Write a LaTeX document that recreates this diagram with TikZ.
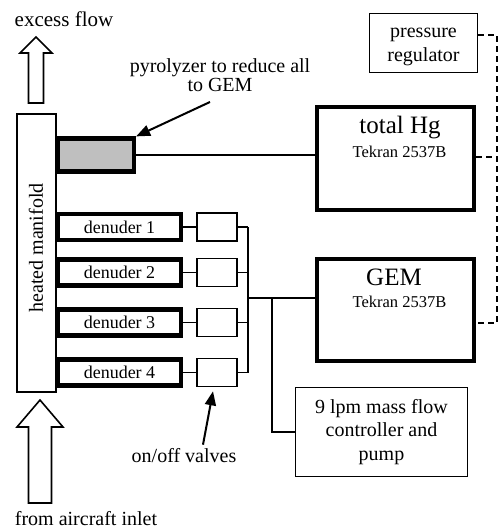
\documentclass[tikz,border=0pt]{standalone}
\usepackage{fontspec}
\setmainfont{Liberation Serif}
\usetikzlibrary{positioning,arrows.meta,calc}

\tikzset{
  thinbox/.style={draw, line width=1.6pt, inner sep=0pt},
  thickbox/.style={draw, line width=4.2pt, inner sep=0pt},
  pipe/.style={line width=1.6pt},
  dashline/.style={line width=1.6pt, dash pattern=on 6pt off 4pt},
  pointer/.style={line width=2pt, -{Triangle[length=14pt,width=11pt]}},
  bigarrow/.style={draw, line width=1.6pt, fill=white, line join=miter},
  txt/.style={font=\fontsize{20}{23}\selectfont, inner sep=0pt, align=center},
}

\begin{document}
\begin{tikzpicture}[x=1pt, y=-1pt]
  \useasboundingbox (0,0) rectangle (501,531);

  % manifold and flow arrows
  \node[thinbox, minimum width=39pt, minimum height=278pt] (manifold) at (36.5,253) {};
  \node[txt, rotate=90] (manifoldlbl) at (36,248) {heated manifold};
  \draw[bigarrow] (28.5,103) -- (28.5,53) -- (20,53) -- (36,37) -- (52,53) -- (43.5,53) -- (43.5,103) -- cycle;
  \node[txt, font=\fontsize{21}{23}\selectfont] (excess) at (64,19) {excess flow};
  \draw[bigarrow] (28.5,503) -- (28.5,427) -- (17,427) -- (40,400) -- (63,427) -- (51.5,427) -- (51.5,503) -- cycle;
  \node[txt] (inlet) at (86,519) {from aircraft inlet};

  % pyrolyzer branch
  \node[thickbox, fill=black!25, minimum width=76pt, minimum height=33pt] (pyro) at (96,155) {};
  \node[txt, font=\fontsize{20}{19.5}\selectfont] (pyrolbl) at (220,75) {pyrolyzer to reduce all\\to GEM};
  \draw[pointer] ([xshift=-10pt,yshift=-10pt]pyrolbl.south) -- (pyro.north east);

  \node[thickbox, minimum width=157pt, minimum height=103pt] (totalhg) at (395.5,158.5) {};
  \node[font=\fontsize{25}{25}\selectfont, anchor=base] (totalhgname) at (400,133) {total Hg};
  \node[font=\fontsize{16.5}{18}\selectfont, anchor=base] (totalhgtype) at (399.5,157) {Tekran 2537B};
  \draw[pipe] (pyro.east) -- (pyro.east -| totalhg.west);

  % denuders and valves
  \coordinate (bus) at (248,0);
  \foreach \i/\y in {1/227,2/272.5,3/322.5,4/372.5} {
    \node[thickbox, minimum width=123pt, minimum height=26pt, font=\fontsize{18}{20}\selectfont] (den\i) at (119.5,\y) {denuder \i};
    \node[thinbox, minimum width=40pt, minimum height=28pt] (valve\i) at (217,\y) {};
    \draw[pipe] (den\i.east) -- (valve\i.west);
    \draw[pipe] (valve\i.east) -- (valve\i.east -| bus);
  }
  \draw[pipe] (valve1.east -| bus) -- (valve4.east -| bus);
  \node[txt] (valvelbl) at (184,456) {on/off valves};
  \draw[pointer] ([xshift=19pt,yshift=4pt]valvelbl.north) -- ([xshift=-4pt,yshift=-4pt]valve4.south);

  % GEM branch
  \node[thickbox, minimum width=157pt, minimum height=102pt] (gem) at (395.5,310) {};
  \node[font=\fontsize{25}{25}\selectfont, anchor=base] (gemname) at (394,285) {GEM};
  \node[font=\fontsize{16.5}{18}\selectfont, anchor=base] (gemtype) at (399.5,307) {Tekran 2537B};
  \coordinate (tee) at (272,298);
  \draw[pipe] (tee -| bus) -- (tee -| gem.west);
  \node[thinbox, txt, font=\fontsize{20}{23.5}\selectfont, minimum width=172pt, minimum height=89pt] (massflow) at (381.5,432) {9 lpm mass flow\\controller and\\pump};
  \draw[pipe] (tee) |- (massflow.west);

  % pressure control
  \node[thinbox, minimum width=108pt, minimum height=59pt] (regulator) at (423.5,43) {};
  \node[txt, font=\fontsize{20}{24}\selectfont] (regulatorlbl) at ([yshift=-4pt]regulator.center) {pressure\\regulator};
  \coordinate (dashx) at (497,0);
  \draw[dashline] (regulator.east |- 0,35) -| (dashx |- 0,323) -- (gem.east |- 0,323);
  \draw[dashline] (totalhg.east |- 0,157) -- (dashx |- 0,157);
\end{tikzpicture}
\end{document}
